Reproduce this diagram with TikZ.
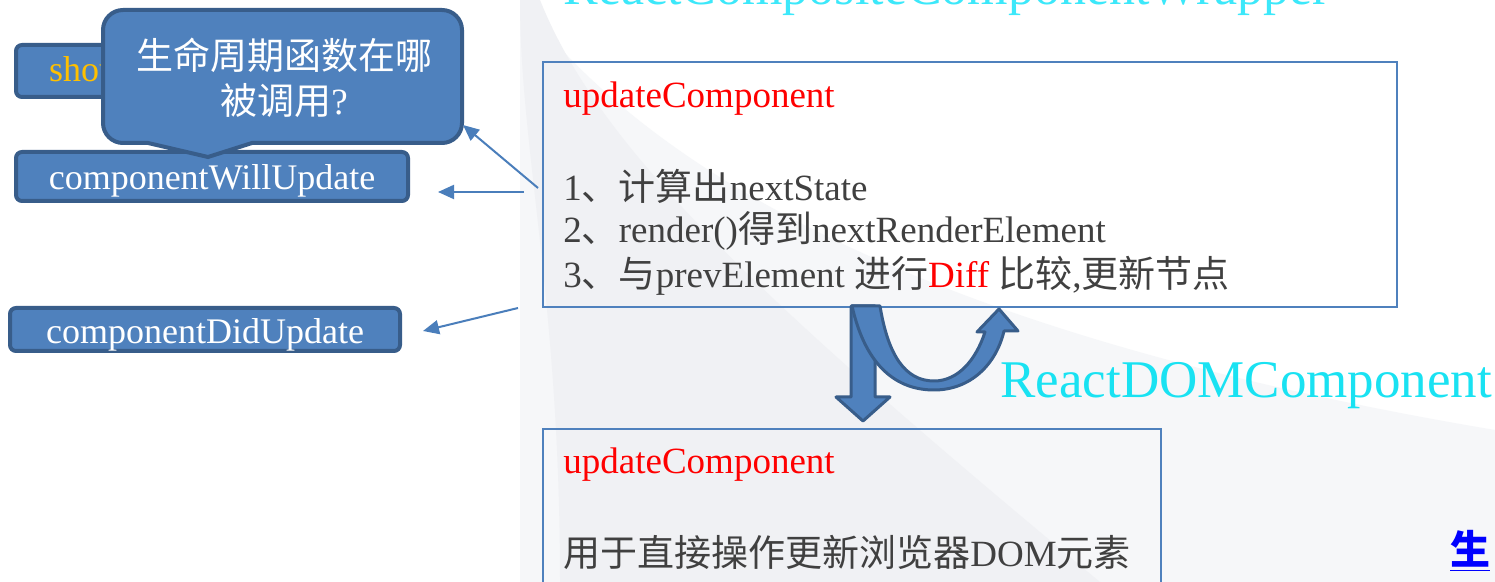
\documentclass[tikz,border=0pt]{standalone}
\usepackage{fontspec}
\setmainfont{Liberation Serif}
\newfontfamily\cjk{Noto Sans CJK SC}
\usetikzlibrary{arrows.meta}
\definecolor{boxblue}{RGB}{79,129,189}
\definecolor{boxedge}{RGB}{56,93,138}
\definecolor{linkblue}{RGB}{74,126,187}
\definecolor{txtgray}{RGB}{64,64,64}
\definecolor{cyanA}{RGB}{60,232,250}
\definecolor{cyanB}{RGB}{25,226,242}
\definecolor{goldtxt}{RGB}{255,192,0}
\definecolor{bgA}{RGB}{246,247,249}
\definecolor{bgB}{RGB}{240,241,244}
\begin{document}
\begin{tikzpicture}[x=0.5pt,y=-0.5pt,
  lbox/.style={draw=boxedge, fill=boxblue, line width=2pt, rounded corners=3pt, inner sep=0pt, text=white, text depth=0pt, font=\fontsize{18}{20}\selectfont},
  frame/.style={draw=boxblue, line width=0.8pt},
  txt/.style={anchor=west, inner sep=0pt, text=txtgray, font=\fontsize{18.5}{20}\selectfont},
  redtxt/.style={anchor=west, inner sep=0pt, text=red, font=\fontsize{18.5}{20}\selectfont},
  thinarrow/.style={draw=linkblue, line width=1pt, -{Triangle[length=8pt,width=7pt]}},
  blockarrow/.style={fill=boxblue, draw=boxedge, line width=1.5pt, line join=round},
  callout/.style={fill=boxblue, draw=boxedge, line width=2pt},
  title/.style={anchor=base west, inner sep=0pt, font=\fontsize{26}{28}\selectfont}]
\clip (0,0) rectangle (1495,582);
\fill[white] (0,0) rectangle (1495,582);
% faint background swoosh
\fill[bgA] (520,0) .. controls (640,160) and (900,330) .. (1495,430) -- (1495,582) -- (520,582) -- cycle;
\fill[bgB] (540,0) .. controls (600,150) and (760,300) .. (1100,582) -- (560,582) .. controls (560,300) and (520,150) .. (520,0) -- cycle;
\fill[white,opacity=0.8] (720,0) .. controls (840,170) and (1060,300) .. (1495,330) -- (1495,0) -- cycle;

% title
\node[title, text=cyanA] (t1) at (563,5) {ReactCompositeComponentWrapper};

% upper frame
\draw[frame] (543,62) rectangle (1397,307);
\node[redtxt] (uc1) at (563,99) {updateComponent};
\node[txt] (l1) at (563,186) {1{\cjk 、计算出}nextState};
\node[txt] (l2) at (563,231) {2{\cjk 、}render(){\cjk 得到}nextRenderElement};
\node[txt] (l3) at (563,276) {3{\cjk 、与}prevElement {\cjk 进行}\textcolor{red}{Diff} {\cjk 比较},{\cjk 更新节点}};

% lower frame
\draw[frame] (543,429) rectangle (1161,600);
\node[redtxt] (uc2) at (563,465) {updateComponent};
\node[txt] (l4) at (563,552) {{\cjk 用于直接操作更新浏览器}DOM{\cjk 元素}};

% block arrows
\path[blockarrow] (851,306) -- (875,306) -- (875,397) -- (890,397) -- (863,421) -- (836,397) -- (851,397) -- cycle;
\path[blockarrow] (852,306) .. controls (866,368) and (898,390) .. (934,390) .. controls (970,390) and (996,365) .. (1004,331) -- (1018,331) -- (999,309) -- (977,332) -- (985,332) .. controls (976,360) and (958,381) .. (934,381) .. controls (905,381) and (888,355) .. (880,306) -- cycle;
\node[title, text=cyanB, font=\fontsize{26.5}{28}\selectfont] (t2) at (1000,398) {ReactDOMComponent};

% left boxes
\node[lbox, minimum width=217pt, minimum height=26pt, text=goldtxt, text height=11pt] (should) at (233,71) {shouldComponentUpdate};
\node[lbox, minimum width=196pt, minimum height=24.5pt, text height=13.5pt] (will) at (212,176.5) {componentWillUpdate};
\node[lbox, minimum width=195pt, minimum height=21.5pt, text height=14.5pt] (did) at (205,329.5) {componentDidUpdate};

% callout
\path[callout] (208,157) -- (148,143) [rounded corners=10pt] -- (103,143) -- (103,10) -- (462,10) -- (462,143) [sharp corners] -- (252,143) -- cycle;
\node[align=center, text=white, inner sep=0pt, font=\fontsize{18.5}{22.5}\selectfont] (q) at (284,78) {{\cjk 生命周期函数在哪}\\{\cjk 被调用}?};

% thin arrows
\coordinate (s1) at (538,188); \coordinate (e1) at (463,125);
\coordinate (s2) at (524,192); \coordinate (e2) at (438,192);
\coordinate (s3) at (518,308); \coordinate (e3) at (423,331);
\draw[thinarrow] (s1) -- (e1);
\draw[thinarrow] (s2) -- (e2);
\draw[thinarrow] (s3) -- (e3);

% link
\node[anchor=base west, inner sep=0pt, text=blue, font=\cjk\bfseries\fontsize{20}{22}\selectfont] (link) at (1450,565) {\underline{生}};
\end{tikzpicture}
\end{document}
